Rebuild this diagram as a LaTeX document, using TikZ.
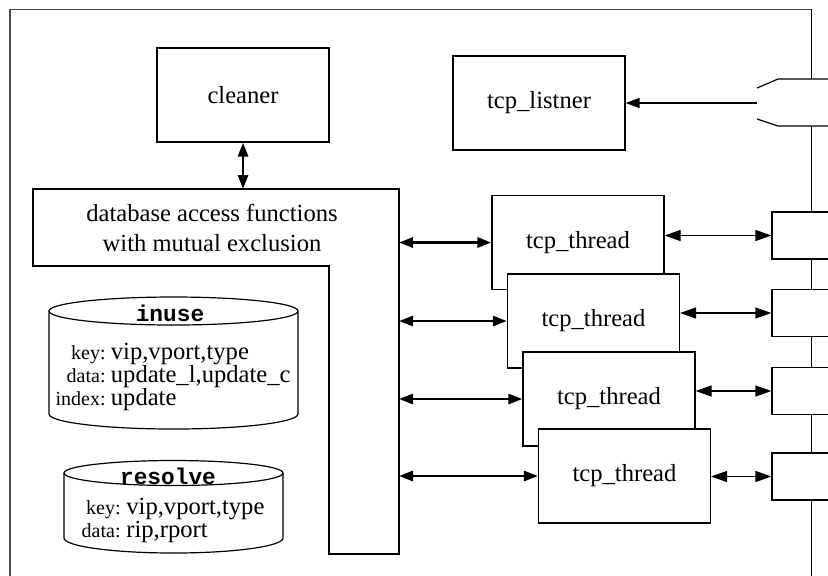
\documentclass[tikz,border=0pt]{standalone}
\usepackage{fontspec}
\setmainfont{Liberation Serif}
\setmonofont{Liberation Mono}
\usetikzlibrary{arrows.meta}
\newcommand\mainfs{\fontsize{12.3}{15}\selectfont}
\newcommand\smallfs{\fontsize{10}{12}\selectfont}
\newcommand\titlefs{\fontsize{11.4}{13}\selectfont\ttfamily\bfseries}
\tikzset{
  boxline/.style={line width=0.6pt, draw=black},
  box/.style={boxline, fill=white, inner sep=0pt, font=\mainfs, minimum width=86pt, minimum height=47pt},
  sidebox/.style={boxline, fill=white, inner sep=0pt, minimum width=49pt, minimum height=23.5pt},
  framel/.style={line width=0.7pt, draw=black!70},
  thickarrow/.style={line width=1.4pt, {Triangle[length=7pt,width=5pt]}-{Triangle[length=7pt,width=5pt]}},
  thinarrow/.style={line width=0.6pt, {Triangle[length=8pt,width=5.5pt]}-{Triangle[length=8pt,width=5.5pt]}},
  onearrow/.style={line width=0.8pt, -{Triangle[length=7pt,width=5pt]}},
  lab/.style={font=\smallfs, anchor=base east, inner sep=0pt},
  val/.style={font=\mainfs, anchor=base west, inner sep=0pt},
  ttl/.style={font=\titlefs, inner sep=0pt}
}
\begin{document}
\begin{tikzpicture}[x=0.5pt,y=-0.5pt]
\useasboundingbox (0,0) rectangle (828,575);
\clip (0,0) rectangle (828,575);
% frame
\draw[framel] (10,580) -- (10,9.3) -- (811.7,9.3);
\draw[boxline] (811.7,9.3) -- (811.7,79);
\draw[boxline] (811.7,126) -- (811.7,580);

% cleaner and listener
\node[box] (cleaner) at (243,95) {cleaner};
\node[box] (listner) at (539,103) {tcp\_listner};

% listener input connector
\coordinate (lin) at (757,103);
\draw[boxline] (757,88) -- (778,79) -- (840,79);
\draw[boxline] (757,119) -- (778,126) -- (840,126);
\draw[onearrow] (lin) -- (listner.east |- lin);

% database access L-shape
\draw[boxline, fill=white] (33,189) -- (399,189) -- (399,554) -- (329,554) -- (329,266) -- (33,266) -- cycle;
\coordinate (dbR) at (399,189);
\coordinate (dbT) at (243,189);
\node[font=\mainfs, align=center, inner sep=0pt] (dbtext) at (212,228) {database access functions\\with mutual exclusion};
\draw[thickarrow] (cleaner.south) -- (cleaner.south |- dbT);

% tcp threads
\node[box] (t1) at (578,242.5) {tcp\_thread};
\node[box] (t2) at (593.5,321) {tcp\_thread};
\node[box] (t3) at (609,399) {tcp\_thread};
\node[box] (t4) at (624.5,476) {tcp\_thread};

% right boxes (cut at the edge)
\node[sidebox] (r1) at (821,235.5) {};
\node[sidebox] (r2) at (821,313) {};
\node[sidebox] (r3) at (821,391) {};
\node[sidebox] (r4) at (821,476.5) {};

\draw[thickarrow] (dbR |- t1.west) -- (t1.west);
\draw[thickarrow] (dbR |- t2.west) -- (t2.west);
\draw[thickarrow] (dbR |- t3.west) -- (t3.west);
\draw[thickarrow] (dbR |- t4.west) -- (t4.west);
\draw[thinarrow] (t1.east |- r1.west) -- (r1.west);
\draw[thinarrow] (t2.east |- r2.west) -- (r2.west);
\draw[thinarrow] (t3.east |- r3.west) -- (r3.west);
\draw[thinarrow] (t4.east |- r4.west) -- (r4.west);

% inuse cylinder
\draw[boxline, fill=white] (49,311) -- (49,414) arc[start angle=180, end angle=0, x radius=124.5, y radius=15] -- (298,311);
\draw[boxline] (173.5,311) ellipse [x radius=124.5, y radius=14];
\node[ttl] (inuseT) at (170,313) {inuse};
\node[lab] (iuk) at (106,359) {key:};
\node[val] (iukv) at (110.5,359) {vip,vport,type};
\node[lab] (iud) at (106,382) {data:};
\node[val] (iudv) at (110.5,382) {update\_l,update\_c};
\node[lab] (iui) at (106,405) {index:};
\node[val] (iuiv) at (110.5,405) {update};

% resolve cylinder
\draw[boxline, fill=white] (64,473) -- (64,538) arc[start angle=180, end angle=0, x radius=109.5, y radius=15] -- (283,473);
\draw[boxline] (173.5,473) ellipse [x radius=109.5, y radius=12.5];
\node[ttl] (resT) at (168,476.5) {resolve};
\node[lab] (rsk) at (121,514) {key:};
\node[val] (rskv) at (126,514) {vip,vport,type};
\node[lab] (rsd) at (121,537) {data:};
\node[val] (rsdv) at (126,537) {rip,rport};
\end{tikzpicture}
\end{document}
